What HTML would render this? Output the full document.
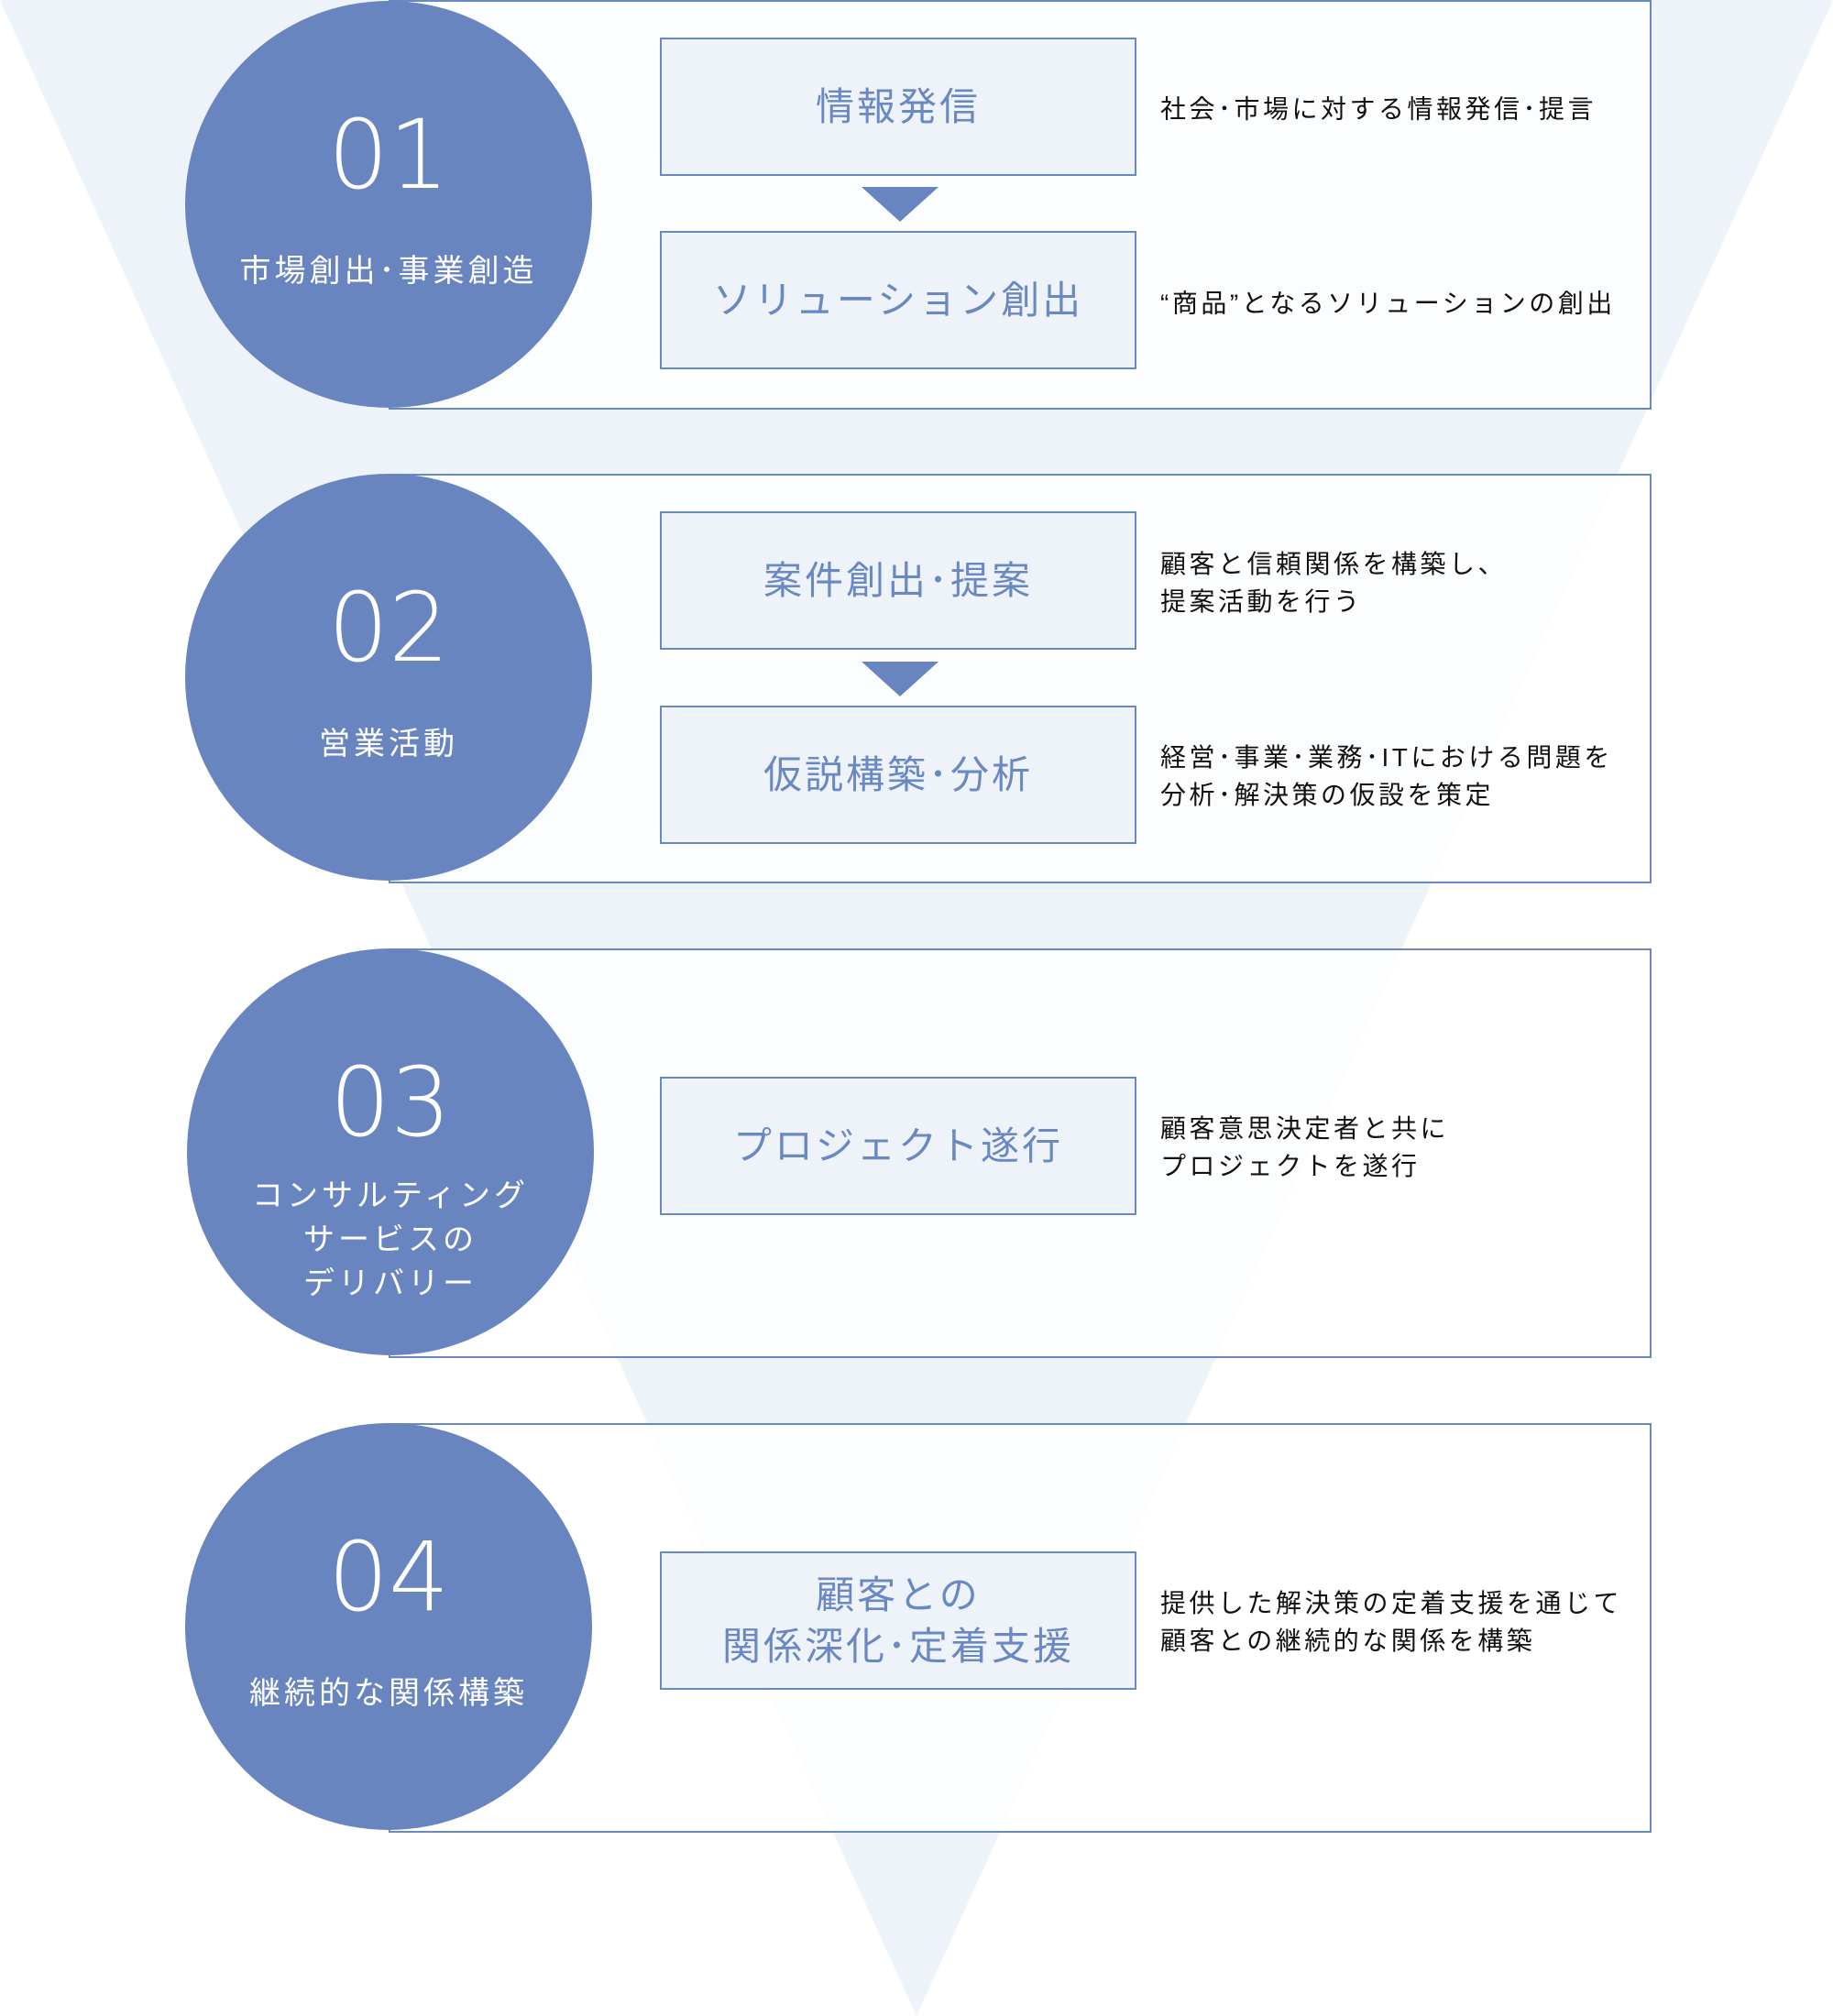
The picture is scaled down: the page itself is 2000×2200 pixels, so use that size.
<!DOCTYPE html>
<html><head><meta charset="utf-8"><style>
body{margin:0;width:2000px;height:2200px;background:#fff;position:relative;overflow:hidden;font-family:"Liberation Sans","Noto Sans CJK JP",sans-serif}
.a{position:absolute}
.panel{position:absolute;left:424px;width:1374px;height:443px;border:2px solid #6a88c2;background:rgba(255,255,255,0.8)}
.circ{position:absolute;left:202px;width:444px;height:444px;border-radius:50%;background:#6885c0;color:#fff;text-align:center}
.num{position:absolute;left:0;right:0;top:100px;font-family:"DejaVu Sans ExtraLight","DejaVu Sans","Liberation Sans",sans-serif;font-size:104px;line-height:136px;font-weight:200;letter-spacing:0px}
.lab{position:absolute;left:0;right:0;font-size:34px;line-height:48px;letter-spacing:4px}
.box{position:absolute;left:720px;width:516px;height:147px;border:2px solid #6a88c2;background:#eef2f9;color:#6a88c2;font-size:42px;letter-spacing:3px;display:flex;align-items:center;justify-content:center;text-align:center;line-height:56px}
.desc{position:absolute;left:1266px;font-size:28px;line-height:41px;color:#111;letter-spacing:3.5px;transform:translateY(-50%)}
.arr{position:absolute;left:940px;width:0;height:0;border-left:42px solid transparent;border-right:42px solid transparent;border-top:38px solid #6885c0}
</style></head><body>
<svg class="a" style="left:0;top:0" width="2000" height="2200"><polygon points="0,0 2000,0 1000,2200" fill="#eef2f9"/></svg>

<div class="panel" style="top:0"></div>
<div class="panel" style="top:517px"></div>
<div class="panel" style="top:1035px"></div>
<div class="panel" style="top:1553px"></div>

<div class="circ" style="top:1px"><div class="num">01</div><div class="lab" style="top:271px">市場創出･事業創造</div></div>
<div class="circ" style="top:517px"><div class="num">02</div><div class="lab" style="top:271px">営業活動</div></div>
<div class="circ" style="top:1035px;left:204px"><div class="num">03</div><div class="lab" style="top:246px">コンサルティング<br>サービスの<br>デリバリー</div></div>
<div class="circ" style="top:1553px"><div class="num">04</div><div class="lab" style="top:271px">継続的な関係構築</div></div>

<div class="box" style="top:41px">情報発信</div>
<div class="arr" style="top:204px"></div>
<div class="box" style="top:252px">ソリューション創出</div>
<div class="desc" style="top:119px">社会･市場に対する情報発信･提言</div>
<div class="desc" style="top:331px">“商品”となるソリューションの創出</div>

<div class="box" style="top:558px">案件創出･提案</div>
<div class="arr" style="top:722px"></div>
<div class="box" style="top:770px">仮説構築･分析</div>
<div class="desc" style="top:636px">顧客と信頼関係を構築し、<br>提案活動を行う</div>
<div class="desc" style="top:847px">経営･事業･業務･ITにおける問題を<br>分析･解決策の仮設を策定</div>

<div class="box" style="top:1175px">プロジェクト遂行</div>
<div class="desc" style="top:1252px">顧客意思決定者と共に<br>プロジェクトを遂行</div>

<div class="box" style="top:1693px">顧客との<br>関係深化･定着支援</div>
<div class="desc" style="top:1770px">提供した解決策の定着支援を通じて<br>顧客との継続的な関係を構築</div>
</body></html>
